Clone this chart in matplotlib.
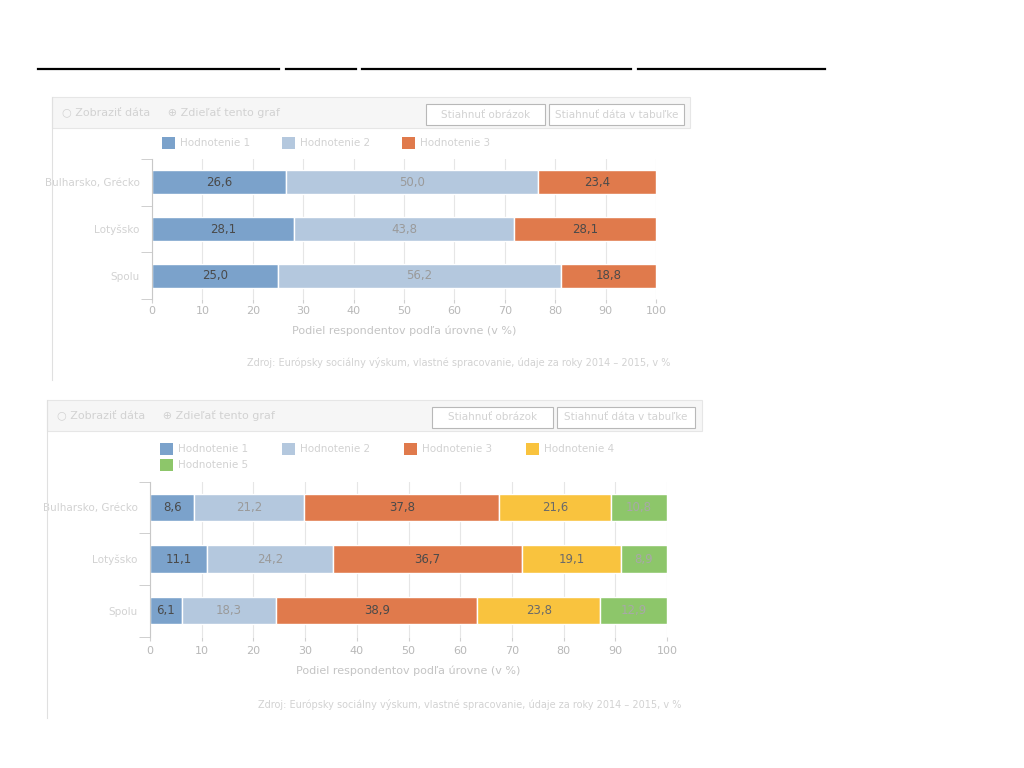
import matplotlib
matplotlib.use("Agg")
import matplotlib.pyplot as plt
from matplotlib.patches import Rectangle
from matplotlib.lines import Line2D

# ---- data ----
categories = ["Bulharsko, Grécko", "Lotyšsko", "Spolu"]

series3_names = ["Hodnotenie 1", "Hodnotenie 2", "Hodnotenie 3"]
series3_values = [
    [26.6, 28.1, 25.0],
    [50.0, 43.8, 56.2],
    [23.4, 28.1, 18.8],
]

series5_names = ["Hodnotenie 1", "Hodnotenie 2", "Hodnotenie 3",
                 "Hodnotenie 4", "Hodnotenie 5"]
series5_values = [
    [8.6, 11.1, 6.1],
    [21.2, 24.2, 18.3],
    [37.8, 36.7, 38.9],
    [21.6, 19.1, 23.8],
    [10.8, 8.9, 12.9],
]

colors = ["#7BA2CB", "#B4C8DE", "#E07A4C", "#F9C33E", "#8DC66A"]
label_color = ["#4a4a4a", "#9a9a9a", "#4a4a4a", "#6a6a6a", "#a8a8a8"]
faint = "#d2d2d2"

W, H = 1024, 768
fig = plt.figure(figsize=(W / 100, H / 100), dpi=100)


def fx(px):
    return px / W


def fy(py):
    return 1 - py / H


def frect(x0, y0, x1, y1, **kw):
    fig.patches.append(Rectangle((fx(x0), fy(y1)), fx(x1) - fx(x0), fy(y0) - fy(y1),
                                 transform=fig.transFigure, **kw))


def fline(x0, y0, x1, y1, **kw):
    fig.lines.append(Line2D([fx(x0), fx(x1)], [fy(y0), fy(y1)], transform=fig.transFigure, **kw))


# underlined (washed-out) title
for a, b in [(38, 279), (286, 356), (362, 631), (638, 825)]:
    fline(a, 69, b, 69, color="black", lw=1.6)


def panel(box, btns, legend_rows, plot_x, centers, bar_h, values, names,
          tick_pad, xlabel_y, src_y, source):
    x0, y0, x1, y1 = box
    # header band
    frect(x0, y0, x1, y0 + 31, facecolor="#f6f6f6", edgecolor="#e6e6e6", lw=0.8)
    fline(x0, y0, x0, y1, color="#e0e0e0", lw=0.8)
    fig.text(fx(x0 + 10), fy(y0 + 16), "○ Zobraziť dáta     ⊕ Zdieľať tento graf",
             fontsize=8, color=faint, va="center")
    for (bx0, bx1), txt in zip(btns, ["Stiahnuť obrázok", "Stiahnuť dáta v tabuľke"]):
        frect(bx0, y0 + 7, bx1, y0 + 28, facecolor="white", edgecolor="#b8b8b8", lw=0.8)
        fig.text(fx((bx0 + bx1) / 2), fy(y0 + 17.5), txt, fontsize=7.5, color=faint,
                 ha="center", va="center")

    # plot
    spacing = centers[1] - centers[0]
    top = centers[0] - spacing / 2
    bot = centers[-1] + spacing / 2
    ax = fig.add_axes([fx(plot_x[0]), fy(bot), fx(plot_x[1]) - fx(plot_x[0]), fy(top) - fy(bot)])
    ypos = list(range(len(categories)))
    left = [0.0] * len(categories)
    for i, vals in enumerate(values):
        bars = ax.barh(ypos, vals, left=left, height=bar_h, color=colors[i],
                       edgecolor="white", linewidth=1.0, label=names[i])
        for b, v in zip(bars, vals):
            ax.text(b.get_x() + b.get_width() / 2, b.get_y() + b.get_height() / 2,
                    f"{v:.1f}".replace(".", ","), ha="center", va="center",
                    fontsize=8.5, color=label_color[i])
        left = [l + v for l, v in zip(left, vals)]
    ax.set_xlim(0, 100)
    ax.set_ylim(len(categories) - 0.5, -0.5)
    ax.set_xticks(range(0, 101, 10))
    ax.set_xticklabels([str(t) for t in range(0, 101, 10)], fontsize=8, color="#b8b8b8")
    ax.set_yticks(ypos)
    ax.set_yticklabels(categories, fontsize=7.5, color=faint)
    ax.set_yticks([y + 0.5 for y in range(-1, len(categories))], minor=True)
    ax.tick_params(axis="y", which="major", length=0, pad=9)
    ax.tick_params(axis="y", which="minor", length=8, color="#c8c8c8")
    ax.tick_params(axis="x", length=3, color="#d0d0d0", pad=tick_pad)
    ax.grid(axis="x", color="#e6e6e6", lw=0.8)
    ax.set_axisbelow(True)
    for s in ["top", "right", "bottom"]:
        ax.spines[s].set_visible(False)
    ax.spines["left"].set_color("#c8c8c8")

    # legend
    per_row, lx0, step, ly0 = legend_rows
    for i, name in enumerate(names):
        r, c = divmod(i, per_row)
        lx = lx0 + c * step
        ly = ly0 + r * 16
        frect(lx, ly - 6, lx + 13, ly + 6, facecolor=colors[i], edgecolor="none")
        fig.text(fx(lx + 18), fy(ly), name, fontsize=7.5, color=faint, va="center")

    fig.text(fx((plot_x[0] + plot_x[1]) / 2), fy(xlabel_y),
             "Podiel respondentov podľa úrovne (v %)",
             fontsize=8, color="#c4c4c4", ha="center", va="center")
    fig.text(fx(plot_x[1] + 14), fy(src_y), source, fontsize=7, color=faint,
             ha="right", va="center")
    return ax


panel(box=(52, 97, 690, 380), btns=[(426, 545), (549, 684)],
      legend_rows=(5, 162, 120, 143), plot_x=(152, 656), centers=[182, 228.5, 276],
      bar_h=0.52, values=series3_values, names=series3_names,
      tick_pad=2, xlabel_y=331, src_y=362,
      source="Zdroj: Európsky sociálny výskum, vlastné spracovanie, údaje za roky 2014 – 2015, v %")

panel(box=(47, 400, 702, 718), btns=[(432, 553), (557, 695)],
      legend_rows=(4, 160, 122, 449), plot_x=(150, 667), centers=[507.5, 559.5, 610.5],
      bar_h=0.53, values=series5_values, names=series5_names,
      tick_pad=4, xlabel_y=671, src_y=705,
      source="Zdroj: Európsky sociálny výskum, vlastné spracovanie, údaje za roky 2014 – 2015, v %")

fig.savefig("out.png", dpi=100, facecolor="white")
